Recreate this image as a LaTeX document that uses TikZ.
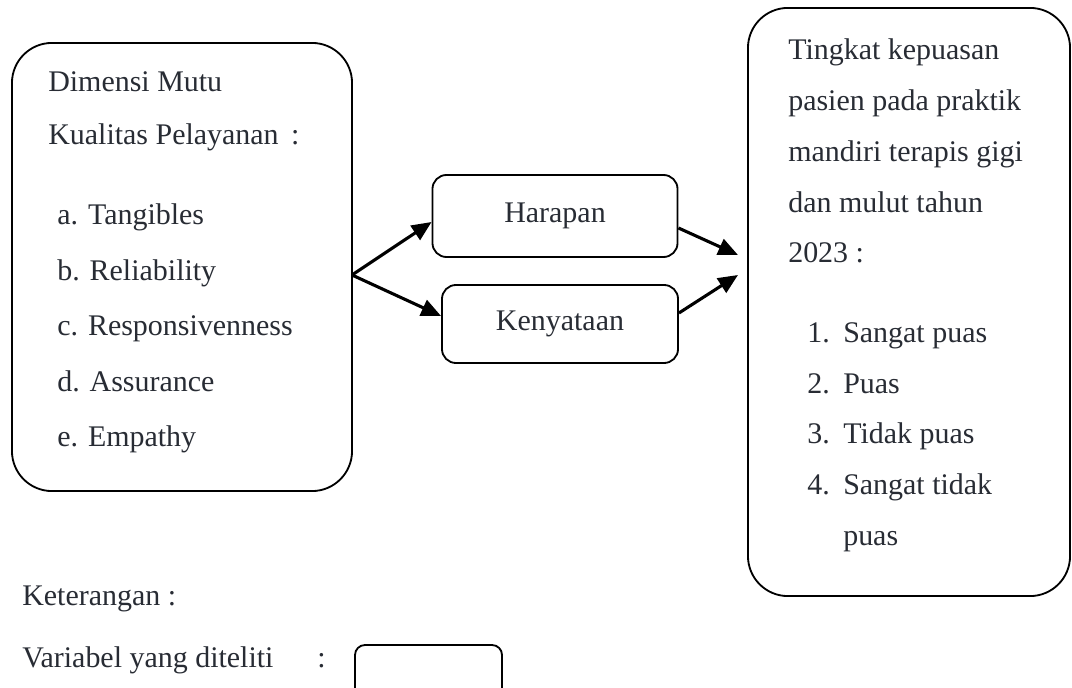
\documentclass[tikz,border=0pt]{standalone}
\usepackage{fontspec}
\setmainfont{Liberation Serif}
\usepackage{xcolor}
\usetikzlibrary{positioning,arrows.meta,calc}
\definecolor{inkgray}{RGB}{40,44,52}

\begin{document}
\begin{tikzpicture}[x=0.025cm, y=-0.025cm, >={Triangle[length=14pt,width=12pt]},
    bigbox/.style={draw, line width=1.3pt, rounded corners=1cm},
    midbox/.style={draw, line width=1.3pt, rounded corners=0.35cm},
    txt/.style={text=inkgray, inner sep=0pt, align=left, anchor=base west,
                font=\fontsize{21.3}{39.5}\selectfont},
    flow/.style={->, line width=2.2pt}]

  \useasboundingbox (0,0) rectangle (1072,688);

  %% ─── Main boxes ──────────────────────────────────────────────────────────
  \node[bigbox, minimum width=8.5cm, minimum height=11.2cm] (dimensi) at (182,267) {};
  \node[bigbox, minimum width=8.05cm, minimum height=14.7cm] (kepuasan) at (909,302) {};

  \node[midbox, text=inkgray, font=\fontsize{21.3}{26}\selectfont,
        minimum width=6.125cm, minimum height=2.05cm] (harapan)
      at (555,216) {Harapan};
  \node[midbox, text=inkgray, font=\fontsize{21.3}{26}\selectfont,
        minimum width=5.9cm, minimum height=1.95cm] (kenyataan)
      at (560,324) {Kenyataan};

  %% ─── Texts in the left box (placed by their last line) ───────────────────
  \node[txt, font=\fontsize{21.3}{37.7}\selectfont] (dimtitle) at (48,145)
      {Dimensi Mutu\\Kualitas Pelayanan \,:};
  \node[txt] (dimlist) at (57,447)
      {a. Tangibles\\b. Reliability\\c. Responsivenness\\d. Assurance\\e. Empathy};

  %% ─── Texts in the right box ──────────────────────────────────────────────
  \node[txt, font=\fontsize{21.3}{36.1}\selectfont] (puastitle) at (788,263)
      {Tingkat kepuasan\\pasien pada praktik\\mandiri terapis gigi\\dan mulut tahun\\2023 :};
  \node[txt, font=\fontsize{21.3}{36}\selectfont] (puasnum) at (807,494.3)
      {1.\\2.\\3.\\4.};
  \node[txt, font=\fontsize{21.3}{36}\selectfont] (puaslist) at (843,545)
      {Sangat puas\\Puas\\Tidak puas\\Sangat tidak\\puas};

  %% ─── Arrows ──────────────────────────────────────────────────────────────
  \coordinate (split) at (352,275);
  \coordinate (inA) at (738,255);
  \coordinate (inB) at (738,275);
  \draw[flow] (split) -- ($(harapan.west)+(0,6)$);
  \draw[flow] (split) -- ($(kenyataan.west)+(0,-8)$);
  \draw[flow] ($(harapan.east)+(0,12)$) -- (inA);
  \draw[flow] ($(kenyataan.east)+(0,-11)$) -- (inB);

  %% ─── Legend ──────────────────────────────────────────────────────────────
  \node[txt] (keterangan) at (22,605) {Keterangan :};
  \node[txt] (variabel) at (22,667) {Variabel yang diteliti};
  \node[txt] (legcolon) at (317,667) {:};
  \node[draw, line width=1.3pt, rounded corners=0.25cm,
        minimum width=3.675cm, minimum height=1.5cm] (legbox) at (428.5,675) {};

\end{tikzpicture}
\end{document}
